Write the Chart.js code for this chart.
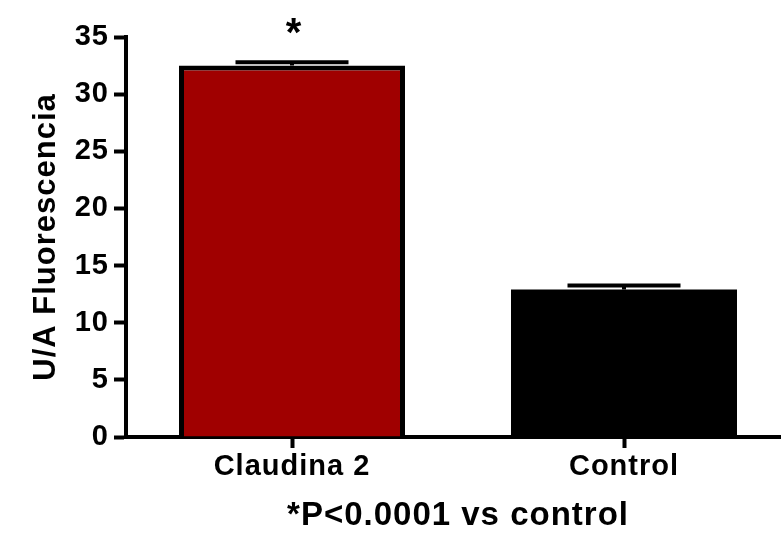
<!DOCTYPE html>
<html>
<head>
<meta charset="utf-8">
<script src="https://cdn.jsdelivr.net/npm/chart.js@4"></script>
<style>
  body { margin: 0; overflow: hidden; background: #fff; }
  #wrap { width: 790px; height: 536px; position: relative; }
</style>
</head>
<body>
<div id="wrap"><canvas id="myBarChart"></canvas></div>
<script>
const categories = ["Claudina 2", "Control"];
const means = [32.5, 12.9];
const errors = [0.3, 0.35];
const barColors = ["#A00000", "#000000"];
const significance = ["*", ""];

const FONT = "Arial, 'Liberation Sans', sans-serif";

// error bars + asterisk, drawn from the y scale
const errorBars = {
  id: "errorBars",
  afterDatasetsDraw(chart) {
    const ctx = chart.ctx;
    const y = chart.scales.y;
    const meta = chart.getDatasetMeta(0);
    ctx.save();
    ctx.strokeStyle = "#000";
    ctx.lineWidth = 4;
    meta.data.forEach((bar, i) => {
      const top = y.getPixelForValue(means[i] + errors[i]);
      const base = y.getPixelForValue(means[i]);
      const half = bar.width / 4;
      ctx.beginPath();
      ctx.moveTo(bar.x, base);
      ctx.lineTo(bar.x, top);
      ctx.moveTo(bar.x - half, top);
      ctx.lineTo(bar.x + half, top);
      ctx.stroke();
      if (significance[i]) {
        ctx.fillStyle = "#000";
        ctx.font = "bold 40px " + FONT;
        ctx.textAlign = "center";
        ctx.textBaseline = "alphabetic";
        ctx.fillText(significance[i], bar.x + 2, top - 16);
      }
    });
    ctx.restore();
  },
};

// the original text runs a little wider than plain Arial
const spacing = {
  id: "spacing",
  beforeDraw(chart) {
    chart.ctx.letterSpacing = "1px";
  },
};

window.onload = function () {
  const ctx = document.getElementById("myBarChart").getContext("2d");

  const data = {
    labels: categories,
    datasets: [
      {
        data: means,
        backgroundColor: barColors,
        borderColor: "#000000",
        // black bar needs no separate border (avoids a seam)
        borderWidth: [5, 0],
        borderSkipped: "start",
        barPercentage: 226 / 332,
        categoryPercentage: 1,
      },
    ],
  };

  const options = {
    responsive: true,
    maintainAspectRatio: false,
    animation: false,
    layout: { padding: { left: 0, right: 0, top: 37, bottom: 0 } },
    plugins: {
      legend: { display: false },
      title: { display: false },
      tooltip: { enabled: false },
    },
    scales: {
      x: {
        offset: true,
        afterFit: (scale) => {
          scale.height = 99;
        },
        grid: {
          offset: false,
          drawOnChartArea: false,
          tickLength: 11,
          tickWidth: 4,
          tickColor: "#000",
        },
        border: { color: "#000", width: 4 },
        ticks: {
          color: "#000",
          padding: 2,
          maxRotation: 0,
          font: { size: 29, weight: "bold", family: FONT },
        },
        title: {
          display: true,
          text: "*P<0.0001 vs control",
          color: "#000",
          padding: { top: 0, bottom: 0 },
          font: { size: 33, weight: "bold", family: FONT },
        },
      },
      y: {
        min: 0,
        max: 35,
        afterFit: (scale) => {
          scale.width = 126;
        },
        grid: {
          drawOnChartArea: false,
          tickLength: 12,
          tickWidth: 4,
          tickColor: "#000",
        },
        border: { color: "#000", width: 4 },
        ticks: {
          stepSize: 5,
          color: "#000",
          padding: 5,
          font: { size: 29, weight: "bold", family: FONT },
        },
        title: {
          display: true,
          text: "U/A Fluorescencia",
          color: "#000",
          padding: { top: 28, bottom: 0 },
          font: { size: 31, weight: "bold", family: FONT },
        },
      },
    },
  };

  new Chart(ctx, {
    type: "bar",
    data: data,
    options: options,
    plugins: [spacing, errorBars],
  });
};
</script>
</body>
</html>
